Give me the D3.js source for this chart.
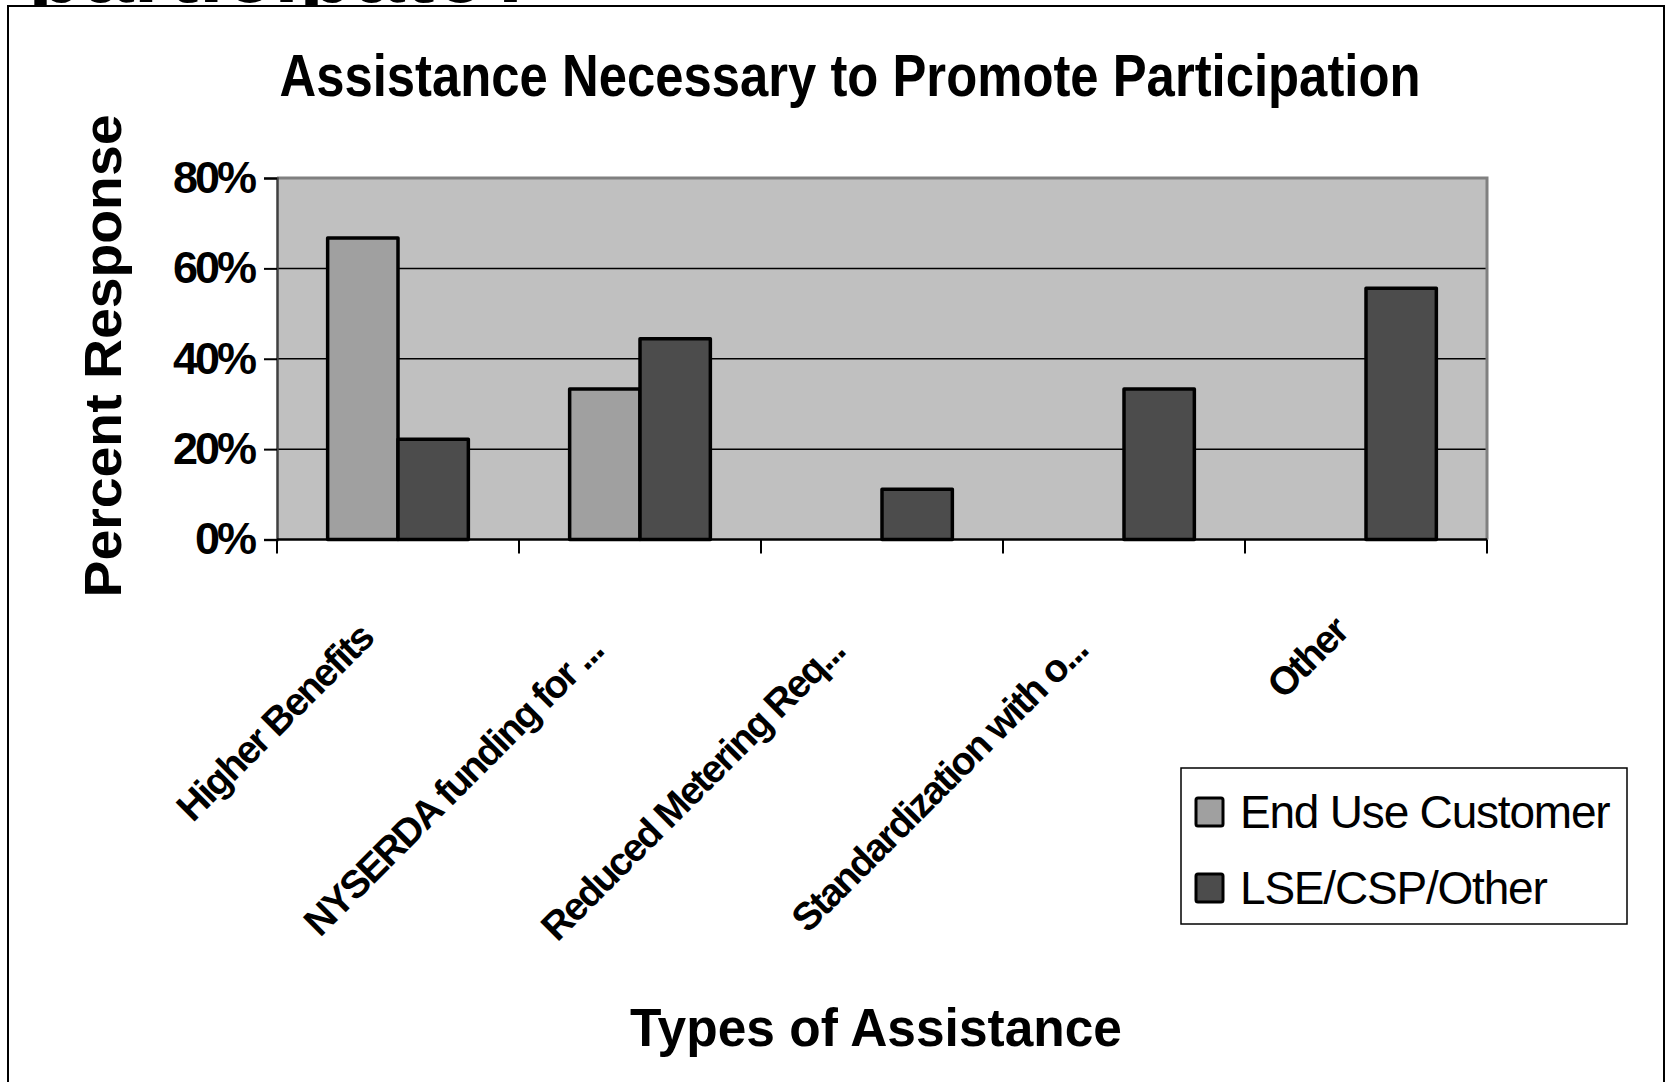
<!DOCTYPE html>
<html>
<head>
<meta charset="utf-8">
<script src="https://cdn.jsdelivr.net/npm/d3@7"></script>
<style>
  html, body { margin: 0; padding: 0; background: #fff; }
  svg { display: block; }
  text { font-family: "Liberation Sans", Arial, sans-serif; }
</style>
</head>
<body>
<svg id="chart" width="1673" height="1082"></svg>
<script>
// Survey responses: share of respondents naming each type of assistance
const categories = [
  "Higher Benefits",
  "NYSERDA funding for ...",
  "Reduced Metering Req...",
  "Standardization with o...",
  "Other"
];
const seriesNames = ["End Use Customer", "LSE/CSP/Other"];
const endUseCustomer = [0.667, 0.333, 0, 0, 0];
const lseCspOther   = [0.222, 0.444, 0.111, 0.333, 0.556];
const yTicks = [0, 0.2, 0.4, 0.6, 0.8];
const seriesColors = ["#a0a0a0", "#4c4c4c"];

const svg = d3.select("#chart");

// Slide heading running off the top edge, mostly hidden behind the chart frame
svg.append("text")
  .attr("x", 28).attr("y", 1.5)
  .attr("font-size", 90).attr("font-weight", "bold")
  .attr("textLength", 512).attr("lengthAdjust", "spacingAndGlyphs")
  .text("participate?");

// Chart frame
svg.append("rect")
  .attr("x", 8).attr("y", 6).attr("width", 1656).attr("height", 1100)
  .attr("fill", "#fff").attr("stroke", "#000").attr("stroke-width", 2);

const plot = { left: 277, right: 1487, top: 178, bottom: 539.5 };

const x0 = d3.scaleBand().domain(categories).range([plot.left, plot.right]).padding(0);
const x1 = d3.scaleBand().domain(seriesNames).range([0, x0.bandwidth()]).paddingOuter(0.72).paddingInner(0);
const y = d3.scaleLinear().domain([0, 0.8]).range([plot.bottom, plot.top]);

// Plot area background
svg.append("rect")
  .attr("x", plot.left).attr("y", plot.top)
  .attr("width", plot.right - plot.left).attr("height", plot.bottom - plot.top)
  .attr("fill", "#c0c0c0");

// Horizontal gridlines
svg.append("g").selectAll("line")
  .data(yTicks.filter(d => d > 0 && d < 0.8))
  .join("line")
  .attr("x1", plot.left).attr("x2", plot.right)
  .attr("y1", d => y(d)).attr("y2", d => y(d))
  .attr("stroke", "#000").attr("stroke-width", 1.5);

// Plot border (top and right)
svg.append("path")
  .attr("d", `M${plot.left},${plot.top}H${plot.right}V${plot.bottom}`)
  .attr("fill", "none").attr("stroke", "#808080").attr("stroke-width", 3);

// Bars
const rows = categories.map((c, i) => ({
  category: c,
  values: [
    { series: seriesNames[0], value: endUseCustomer[i], color: seriesColors[0] },
    { series: seriesNames[1], value: lseCspOther[i], color: seriesColors[1] }
  ]
}));

svg.append("g").selectAll("g")
  .data(rows)
  .join("g")
  .attr("transform", d => `translate(${x0(d.category)},0)`)
  .selectAll("rect")
  .data(d => d.values.filter(v => v.value > 0))
  .join("rect")
  .attr("x", d => x1(d.series))
  .attr("width", x1.bandwidth())
  .attr("y", d => y(d.value))
  .attr("height", d => y(0) - y(d.value))
  .attr("fill", d => d.color)
  .attr("stroke", "#000").attr("stroke-width", 3.5)
  .attr("stroke-linejoin", "round");

// Y axis
const yAxis = svg.append("g")
  .attr("transform", `translate(${plot.left},0)`)
  .call(d3.axisLeft(y).tickValues(yTicks).tickFormat(d3.format(".0%")).tickSize(13).tickPadding(10));
yAxis.select(".domain").attr("stroke", "#404040").attr("stroke-width", 2.5);
yAxis.selectAll(".tick line").attr("stroke", "#000").attr("stroke-width", 2);
yAxis.selectAll(".tick text")
  .attr("font-size", 45).attr("font-weight", "bold").attr("fill", "#000")
  .attr("font-family", "Liberation Sans, Arial, sans-serif")
  .attr("letter-spacing", -3);

// X axis line and category boundary ticks
svg.append("line")
  .attr("x1", plot.left).attr("x2", plot.right)
  .attr("y1", plot.bottom).attr("y2", plot.bottom)
  .attr("stroke", "#000").attr("stroke-width", 2.5);
const boundaries = categories.map(c => x0(c)).concat([plot.right]);
svg.append("g").selectAll("line")
  .data(boundaries)
  .join("line")
  .attr("x1", d => d).attr("x2", d => d)
  .attr("y1", plot.bottom).attr("y2", plot.bottom + 14)
  .attr("stroke", "#000").attr("stroke-width", 2);

// Rotated category labels; longer labels sit further down along their slope
const catLabels = svg.append("g").selectAll("text")
  .data(categories)
  .join("text")
  .attr("font-size", 39).attr("font-weight", "bold")
  .attr("letter-spacing", -2)
  .attr("text-anchor", "end")
  .text(d => d);
catLabels.each(function(d) {
  const len = this.getComputedTextLength();
  const shift = 0.12 * Math.max(0, len - 180);
  const cx = x0(d) + x0.bandwidth() / 2 - 16 - shift * 0.707;
  const cy = 634 + shift * 0.707;
  d3.select(this).attr("transform", `translate(${cx},${cy}) rotate(-45)`);
});

// Titles
svg.append("text")
  .attr("x", 850).attr("y", 96)
  .attr("text-anchor", "middle")
  .attr("font-size", 60).attr("font-weight", "bold")
  .attr("textLength", 1141).attr("lengthAdjust", "spacingAndGlyphs")
  .text("Assistance Necessary to Promote Participation");

svg.append("text")
  .attr("x", 876).attr("y", 1046)
  .attr("text-anchor", "middle")
  .attr("font-size", 53).attr("font-weight", "bold")
  .attr("textLength", 492).attr("lengthAdjust", "spacingAndGlyphs")
  .text("Types of Assistance");

svg.append("text")
  .attr("transform", "translate(121,356) rotate(-90)")
  .attr("text-anchor", "middle")
  .attr("font-size", 51).attr("font-weight", "bold")
  .attr("textLength", 483).attr("lengthAdjust", "spacingAndGlyphs")
  .text("Percent Response");

// Legend
const legend = svg.append("g");
legend.append("rect")
  .attr("x", 1181).attr("y", 768).attr("width", 446).attr("height", 156)
  .attr("fill", "#fff").attr("stroke", "#000").attr("stroke-width", 1.5);
const items = legend.selectAll("g.item")
  .data(seriesNames)
  .join("g")
  .attr("class", "item")
  .attr("transform", (d, i) => `translate(1196,${812 + i * 76})`);
items.append("rect")
  .attr("x", 0).attr("y", -14).attr("width", 27).attr("height", 28)
  .attr("rx", 2)
  .attr("fill", (d, i) => seriesColors[i])
  .attr("stroke", "#000").attr("stroke-width", 3);
items.append("text")
  .attr("x", 44).attr("y", 16)
  .attr("font-size", 46)
  .attr("letter-spacing", -1.2)
  .text(d => d);
</script>
</body>
</html>
